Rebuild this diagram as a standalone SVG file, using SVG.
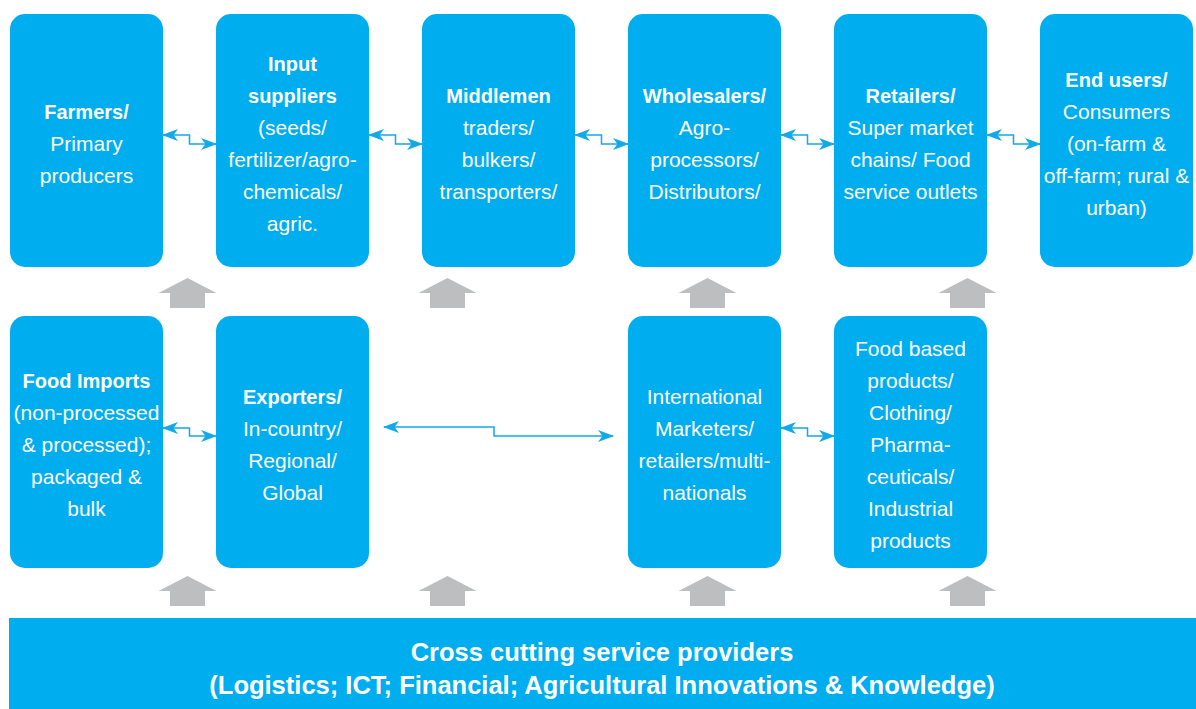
<svg xmlns="http://www.w3.org/2000/svg" width="1196" height="709" viewBox="0 0 1196 709">
<defs>
<style>
.box{fill:#00AEEF}
.t{font-family:"Liberation Sans",Arial,sans-serif;font-size:21px;fill:#fff;text-anchor:middle}
.b{font-weight:bold;font-size:20px}
.big{font-family:"Liberation Sans",Arial,sans-serif;font-size:25.5px;font-weight:bold;fill:#fff;text-anchor:middle}
.c{fill:none;stroke:#12A9E8;stroke-width:1.5;marker-start:url(#ah);marker-end:url(#ah)}
.g{fill:#BCBEC0}
</style>
<marker id="ah" markerUnits="userSpaceOnUse" markerWidth="17" markerHeight="14" viewBox="0 -7 16 14" refX="15" refY="0" orient="auto-start-reverse">
<path d="M16,0 L0,-6 L4.5,0 L0,6 Z" fill="#12A9E8"/>
</marker>
<path id="ga" d="M0,0 L29,15 L17.5,15 L17.5,30 L-17.5,30 L-17.5,15 L-29,15 Z"/>
</defs>

<g id="farmers"><rect class="box" x="10" y="14" width="153" height="253" rx="15"/>
<text class="t"><tspan class="b" x="86.5" y="119">Farmers/</tspan><tspan x="86.5" y="151">Primary</tspan><tspan x="86.5" y="183">producers</tspan></text></g>

<g id="input-suppliers"><rect class="box" x="216" y="14" width="153" height="253" rx="15"/>
<text class="t"><tspan class="b" x="292.5" y="71">Input</tspan><tspan class="b" x="292.5" y="103">suppliers</tspan><tspan x="292.5" y="135">(seeds/</tspan><tspan x="292.5" y="167">fertilizer/agro-</tspan><tspan x="292.5" y="199">chemicals/</tspan><tspan x="292.5" y="231">agric.</tspan></text></g>

<g id="middlemen"><rect class="box" x="422" y="14" width="153" height="253" rx="15"/>
<text class="t"><tspan class="b" x="498.5" y="103">Middlemen</tspan><tspan x="498.5" y="135">traders/</tspan><tspan x="498.5" y="167">bulkers/</tspan><tspan x="498.5" y="199">transporters/</tspan></text></g>

<g id="wholesalers"><rect class="box" x="628" y="14" width="153" height="253" rx="15"/>
<text class="t"><tspan class="b" x="704.5" y="103">Wholesalers/</tspan><tspan x="704.5" y="135">Agro-</tspan><tspan x="704.5" y="167">processors/</tspan><tspan x="704.5" y="199">Distributors/</tspan></text></g>

<g id="retailers"><rect class="box" x="834" y="14" width="153" height="253" rx="15"/>
<text class="t"><tspan class="b" x="910.5" y="103">Retailers/</tspan><tspan x="910.5" y="135">Super market</tspan><tspan x="910.5" y="167">chains/ Food</tspan><tspan x="910.5" y="199">service outlets</tspan></text></g>

<g id="end-users"><rect class="box" x="1040" y="14" width="153" height="253" rx="15"/>
<text class="t"><tspan class="b" x="1116.5" y="87">End users/</tspan><tspan x="1116.5" y="119">Consumers</tspan><tspan x="1116.5" y="151">(on-farm &amp;</tspan><tspan x="1116.5" y="183">off-farm; rural &amp;</tspan><tspan x="1116.5" y="215">urban)</tspan></text></g>

<g id="food-imports"><rect class="box" x="10" y="316" width="153" height="252" rx="15"/>
<text class="t"><tspan class="b" x="86.5" y="388">Food Imports</tspan><tspan x="86.5" y="420">(non-processed</tspan><tspan x="86.5" y="452">&amp; processed);</tspan><tspan x="86.5" y="484">packaged &amp;</tspan><tspan x="86.5" y="516">bulk</tspan></text></g>

<g id="exporters"><rect class="box" x="216" y="316" width="153" height="252" rx="15"/>
<text class="t"><tspan class="b" x="292.5" y="404">Exporters/</tspan><tspan x="292.5" y="436">In-country/</tspan><tspan x="292.5" y="468">Regional/</tspan><tspan x="292.5" y="500">Global</tspan></text></g>

<g id="international"><rect class="box" x="628" y="316" width="153" height="252" rx="15"/>
<text class="t"><tspan x="704.5" y="404">International</tspan><tspan x="704.5" y="436">Marketers/</tspan><tspan x="704.5" y="468">retailers/multi-</tspan><tspan x="704.5" y="500">nationals</tspan></text></g>

<g id="food-products"><rect class="box" x="834" y="316" width="153" height="252" rx="15"/>
<text class="t"><tspan x="910.5" y="356">Food based</tspan><tspan x="910.5" y="388">products/</tspan><tspan x="910.5" y="420">Clothing/</tspan><tspan x="910.5" y="452">Pharma-</tspan><tspan x="910.5" y="484">ceuticals/</tspan><tspan x="910.5" y="516">Industrial</tspan><tspan x="910.5" y="548">products</tspan></text></g>

<g id="service-providers"><rect class="box" x="9" y="618" width="1187" height="91"/>
<text class="big"><tspan x="602" y="661">Cross cutting service providers</tspan><tspan x="602" y="694">(Logistics; ICT; Financial; Agricultural Innovations &amp; Knowledge)</tspan></text></g>

<g id="connectors">
<path class="c" d="M163,135 H189.5 V144 H216"/>
<path class="c" d="M369,135 H395.5 V144 H422"/>
<path class="c" d="M575,135 H601.5 V144 H628"/>
<path class="c" d="M781,135 H807.5 V144 H834"/>
<path class="c" d="M987,135 H1013.5 V144 H1040"/>
<path class="c" d="M163,428 H189.5 V436 H216"/>
<path class="c" d="M781,428 H807.5 V436 H834"/>
<path class="c" d="M384,427 H494 V436 H613"/>
<g class="g">
<use href="#ga" x="187.5" y="278"/>
<use href="#ga" x="447.5" y="278"/>
<use href="#ga" x="707.5" y="278"/>
<use href="#ga" x="967.5" y="278"/>
<use href="#ga" x="187.5" y="576"/>
<use href="#ga" x="447.5" y="576"/>
<use href="#ga" x="707.5" y="576"/>
<use href="#ga" x="967.5" y="576"/>
</g>
</g>
</svg>
